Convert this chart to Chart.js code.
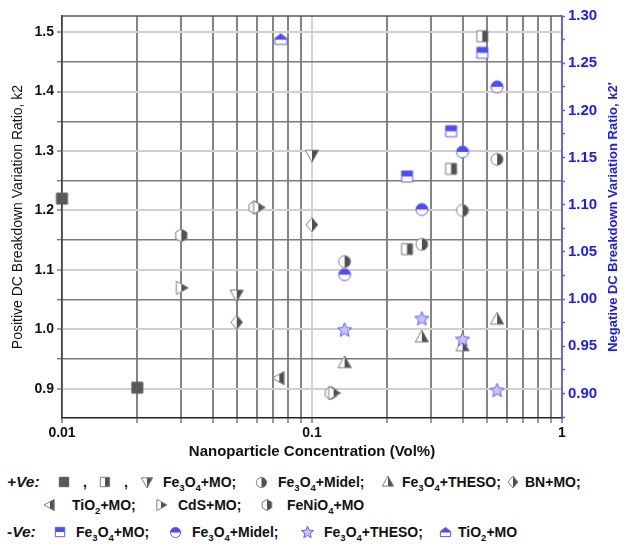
<!DOCTYPE html>
<html lang="en">
<head>
  <meta charset="UTF-8" />
  <title>DC Breakdown Variation Ratio vs Nanoparticle Concentration</title>
  <script src="https://cdn.jsdelivr.net/npm/chart.js"></script>
  <style>
    body { margin: 0; background: #fff; font-family: "Liberation Sans", Arial, sans-serif; }
    #wrap { position: relative; width: 627px; height: 544px; overflow: hidden; }
    #chartBox { position: absolute; left: 0; top: 0; width: 627px; height: 470px; }
    .lg { position: absolute; font-size: 14px; font-weight: bold; color: #111; white-space: nowrap; line-height: 18px; }
    .lg sub { font-size: 9.5px; vertical-align: -4px; line-height: 0; }
    .tag { font-style: italic; font-size: 15.5px; }
    .ico { position: absolute; }
  </style>
</head>
<body>
<div id="wrap">
  <div id="chartBox"><canvas id="chart"></canvas></div>
  <div id="legend"></div>
</div>

<script>
  // ---- data ----
  // +Ve (left axis, k2)
  const posSquareX = [0.01, 0.02];
  const posSquareY = [1.22, 0.902];
  const posHalfSqX = [0.24, 0.36, 0.48];
  const posHalfSqY = [1.135, 1.27, 1.493];
  const posFeMOX = [0.05, 0.1];
  const posFeMOY = [1.058, 1.293];
  const posMidelX = [0.135, 0.275, 0.40, 0.55];
  const posMidelY = [1.114, 1.143, 1.20, 1.286];
  const posThesoX = [0.135, 0.275, 0.40, 0.55];
  const posThesoY = [0.944, 0.987, 0.972, 1.017];
  const posBNX = [0.05, 0.1];
  const posBNY = [1.012, 1.176];
  const posTiO2X = [0.074];
  const posTiO2Y = [0.918];
  const posCdSX = [0.03, 0.061, 0.122];
  const posCdSY = [1.07, 1.205, 0.893];
  const posFeNiX = [0.03, 0.059, 0.119];
  const posFeNiY = [1.158, 1.205, 0.893];
  // -Ve (right axis, k2')
  const negFeMOX = [0.24, 0.36, 0.48];
  const negFeMOY = [1.130, 1.178, 1.261];
  const negMidelX = [0.135, 0.275, 0.40, 0.55];
  const negMidelY = [1.026, 1.095, 1.156, 1.225];
  const negThesoX = [0.135, 0.275, 0.40, 0.55];
  const negThesoY = [0.967, 0.979, 0.957, 0.903];
  const negTiO2X = [0.075];
  const negTiO2Y = [1.275];

  // axis ticks
  const xTicks = [0.01, 0.02, 0.03, 0.04, 0.05, 0.06, 0.07, 0.08, 0.09,
                  0.1, 0.2, 0.3, 0.4, 0.5, 0.6, 0.7, 0.8, 0.9, 1];
  const xLabels = { '0.01': '0.01', '0.1': '0.1', '1': '1' };
  const yLeftTicks = [0.9, 0.95, 1.0, 1.05, 1.1, 1.15, 1.2, 1.25, 1.3, 1.35, 1.4, 1.45, 1.5];
  const yRightTicks = [0.875, 0.9, 0.925, 0.95, 0.975, 1.0, 1.025, 1.05, 1.075, 1.1, 1.125,
                       1.15, 1.175, 1.2, 1.225, 1.25, 1.275, 1.3];

  const GRAY_LINE = '#7d7d7d', GRAY_FILL = '#505050';
  const BLUE = '#1a1aff', BLUE_LINE = '#5c5cff', BLUE_FILL = '#4b4bff';

  const MARKERS = {
    solidSq: { shape: 'square', r: 5.5, bg: '#5a5a5a', line: '#5a5a5a' },
    halfSq:  { shape: 'square', r: 5.5, bg: '#fff', fill: GRAY_FILL, line: GRAY_LINE, half: 'right' },
    down:    { shape: 'down', r: 7, bg: '#fff', fill: GRAY_FILL, line: GRAY_LINE, half: 'right' },
    circ:    { shape: 'circle', r: 6, bg: '#fff', fill: GRAY_FILL, line: GRAY_LINE, half: 'right' },
    up:      { shape: 'up', r: 7, bg: '#fff', fill: GRAY_FILL, line: GRAY_LINE, half: 'right' },
    diam:    { shape: 'diamond', r: 7, bg: '#fff', fill: GRAY_FILL, line: GRAY_LINE, half: 'right' },
    left:    { shape: 'left', r: 7, bg: '#fff', fill: GRAY_FILL, line: GRAY_LINE, half: 'right' },
    right:   { shape: 'right', r: 7, bg: '#fff', fill: GRAY_FILL, line: GRAY_LINE, half: 'right' },
    hex:     { shape: 'hex', r: 6.5, bg: '#fff', fill: GRAY_FILL, line: GRAY_LINE, half: 'right' },
    bSq:     { shape: 'square', r: 5.5, bg: '#fff', fill: BLUE_FILL, line: BLUE_LINE, half: 'top' },
    bCirc:   { shape: 'circle', r: 6, bg: '#fff', fill: BLUE_FILL, line: BLUE_LINE, half: 'top' },
    bStar:   { shape: 'star', r: 7.5, bg: '#c4c4ff', line: BLUE_LINE },
    bHouse:  { shape: 'house', r: 6, bg: '#fff', fill: BLUE_FILL, line: BLUE_LINE, half: 'top' }
  };

  function shapePath(g, shape, cx, cy, r) {
    const pts = [];
    if (shape === 'square') { g.rect(cx - r, cy - r, 2 * r, 2 * r); return; }
    if (shape === 'circle') { g.arc(cx, cy, r, 0, Math.PI * 2); return; }
    if (shape === 'up') pts.push([0, -r], [r * 0.95, r * 0.7], [-r * 0.95, r * 0.7]);
    if (shape === 'down') pts.push([0, r], [r * 0.95, -r * 0.7], [-r * 0.95, -r * 0.7]);
    if (shape === 'left') pts.push([-r, 0], [r * 0.7, -r * 0.95], [r * 0.7, r * 0.95]);
    if (shape === 'right') pts.push([r, 0], [-r * 0.7, -r * 0.95], [-r * 0.7, r * 0.95]);
    if (shape === 'diamond') pts.push([0, -r], [r * 0.85, 0], [0, r], [-r * 0.85, 0]);
    if (shape === 'hex') {
      for (let i = 0; i < 6; i++) {
        const a = -Math.PI / 2 + i * Math.PI / 3;
        pts.push([r * Math.cos(a), r * Math.sin(a)]);
      }
    }
    if (shape === 'house') pts.push([0, -r], [r, -r * 0.2], [r, r * 0.8], [-r, r * 0.8], [-r, -r * 0.2]);
    if (shape === 'star') {
      for (let i = 0; i < 10; i++) {
        const a = -Math.PI / 2 + i * Math.PI / 5;
        const rr = i % 2 ? r * 0.45 : r;
        pts.push([rr * Math.cos(a), rr * Math.sin(a)]);
      }
    }
    pts.forEach((p, i) => i ? g.lineTo(cx + p[0], cy + p[1]) : g.moveTo(cx + p[0], cy + p[1]));
    g.closePath();
  }

  function makeMarker(kind, scale) {
    const m = MARKERS[kind];
    const r = m.r * (scale || 1);
    const size = Math.ceil(2 * r + 4);
    const c = document.createElement('canvas');
    c.width = c.height = size;
    const g = c.getContext('2d');
    const cx = size / 2, cy = size / 2;
    g.beginPath();
    shapePath(g, m.shape, cx, cy, r);
    g.fillStyle = m.bg;
    g.fill();
    if (m.half) {
      g.save();
      g.clip();
      g.fillStyle = m.fill;
      if (m.half === 'right') g.fillRect(cx, 0, size, size);
      else g.fillRect(0, 0, size, cy);
      g.restore();
    }
    g.lineWidth = 1;
    g.strokeStyle = m.line;
    g.stroke();
    return c;
  }

  function pts(xs, ys) { return xs.map((x, i) => ({ x: x, y: ys[i] })); }

  function ds(label, xs, ys, kind, axis) {
    return {
      label: label,
      data: pts(xs, ys),
      yAxisID: axis,
      pointStyle: makeMarker(kind),
      pointRadius: 7,
      showLine: false,
      clip: false
    };
  }

  // first dataset is drawn on top
  const datasets = [
    ds('-Ve Fe3O4+THESO', negThesoX, negThesoY, 'bStar', 'y2'),
    ds('-Ve Fe3O4+Midel', negMidelX, negMidelY, 'bCirc', 'y2'),
    ds('-Ve Fe3O4+MO', negFeMOX, negFeMOY, 'bSq', 'y2'),
    ds('-Ve TiO2+MO', negTiO2X, negTiO2Y, 'bHouse', 'y2'),
    ds('+Ve square', posSquareX, posSquareY, 'solidSq', 'y'),
    ds('+Ve half square', posHalfSqX, posHalfSqY, 'halfSq', 'y'),
    ds('+Ve Fe3O4+MO', posFeMOX, posFeMOY, 'down', 'y'),
    ds('+Ve Fe3O4+Midel', posMidelX, posMidelY, 'circ', 'y'),
    ds('+Ve Fe3O4+THESO', posThesoX, posThesoY, 'up', 'y'),
    ds('+Ve BN+MO', posBNX, posBNY, 'diam', 'y'),
    ds('+Ve TiO2+MO', posTiO2X, posTiO2Y, 'left', 'y'),
    ds('+Ve CdS+MO', posCdSX, posCdSY, 'right', 'y'),
    ds('+Ve FeNiO4+MO', posFeNiX, posFeNiY, 'hex', 'y')
  ];

  const isMajor = (v, step) => Math.abs(Math.round(v / step) * step - v) < 1e-6;

  // top frame line and the right-hand title (reads bottom to top)
  const framePlugin = {
    id: 'frame',
    beforeDatasetsDraw(chart) {
      const { ctx, chartArea: a } = chart;
      ctx.save();
      ctx.strokeStyle = '#555';
      ctx.lineWidth = 1.5;
      ctx.beginPath();
      ctx.moveTo(a.left, a.top);
      ctx.lineTo(a.right, a.top);
      ctx.stroke();
      ctx.restore();
    },
    afterDraw(chart) {
      const { ctx, chartArea: a } = chart;
      ctx.save();
      ctx.translate(613, (a.top + a.bottom) / 2);
      ctx.rotate(-Math.PI / 2);
      ctx.fillStyle = BLUE;
      ctx.font = 'bold 13px "Liberation Sans", Arial, sans-serif';
      ctx.textAlign = 'center';
      ctx.textBaseline = 'middle';
      ctx.fillText("Negative DC Breakdown Variation Ratio, k2'", 0, 0);
      ctx.restore();
    }
  };

  Chart.defaults.font.family = '"Liberation Sans", Arial, sans-serif';
  Chart.defaults.color = '#111';

  new Chart(document.getElementById('chart'), {
    type: 'scatter',
    data: { datasets: datasets },
    options: {
      responsive: true,
      maintainAspectRatio: false,
      animation: false,
      layout: { padding: { top: 16, left: 0, right: 0, bottom: 0 } },
      plugins: { legend: { display: false }, tooltip: { enabled: false } },
      scales: {
        x: {
          type: 'logarithmic',
          min: 0.01,
          max: 1,
          afterBuildTicks: s => { s.ticks = xTicks.map(v => ({ value: v })); },
          afterFit: s => { s.height = 52; },
          ticks: {
            autoSkip: false,
            maxRotation: 0,
            padding: 2,
            color: '#111',
            font: { size: 14, weight: 'bold' },
            callback: v => xLabels[String(Math.round(v * 100) / 100)] || ''
          },
          grid: {
            color: c => (c.tick && Math.abs(c.tick.value - 0.1) < 1e-6) ? '#d2d2d2' : '#858585',
            lineWidth: 2,
            tickLength: 5,
            tickWidth: 1,
            tickColor: '#333'
          },
          border: { color: '#222', width: 1.5 },
          title: {
            display: true,
            text: 'Nanoparticle Concentration (Vol%)',
            color: '#111',
            font: { size: 15, weight: 'bold' },
            padding: { top: 0, bottom: 9 }
          }
        },
        y: {
          position: 'left',
          min: 0.851,
          max: 1.527,
          afterBuildTicks: s => { s.ticks = yLeftTicks.map(v => ({ value: v })); },
          afterFit: s => { s.width = 62; },
          ticks: {
            padding: 3,
            color: '#111',
            font: { size: 14, weight: 'bold' },
            callback: v => isMajor(v, 0.1) ? v.toFixed(1) : ''
          },
          grid: {
            color: c => (c.tick && isMajor(c.tick.value, 0.1)) ? '#d0d0d0' : '#7a7a7a',
            lineWidth: c => (c.tick && isMajor(c.tick.value, 0.1)) ? 2 : 1.5,
            tickLength: 5,
            tickWidth: 1,
            tickColor: '#444'
          },
          border: { color: '#444', width: 1.5 },
          title: {
            display: true,
            text: 'Positive DC Breakdown Variation Ratio, k2',
            color: '#111',
            font: { size: 14 },
            padding: { top: 10, bottom: 0 }
          }
        },
        y2: {
          position: 'right',
          min: 0.874,
          max: 1.30,
          afterBuildTicks: s => { s.ticks = yRightTicks.map(v => ({ value: v })); },
          afterFit: s => { s.width = 65; },
          ticks: {
            padding: 3,
            color: BLUE,
            font: { size: 15, weight: 'bold' },
            callback: v => isMajor(v, 0.05) ? v.toFixed(2) : ''
          },
          grid: {
            drawOnChartArea: false,
            tickLength: c => (c.tick && isMajor(c.tick.value, 0.05)) ? 6 : 3,
            tickWidth: 1.5,
            tickColor: BLUE_LINE
          },
          border: { color: BLUE_LINE, width: 1.5 }
        }
      }
    },
    plugins: [framePlugin]
  });

  // ---- legend (HTML, so the subscripts are real text) ----
  const legendRows = [
    { y: 482, tag: '+Ve:', items: [
      ['solidSq', 64, ',', 83], ['halfSq', 105, ',', 124],
      ['down', 147, 'Fe<sub>3</sub>O<sub>4</sub>+MO;', 163],
      ['circ', 261, 'Fe<sub>3</sub>O<sub>4</sub>+Midel;', 278],
      ['up', 388, 'Fe<sub>3</sub>O<sub>4</sub>+THESO;', 402],
      ['diam', 513, 'BN+MO;', 525]
    ] },
    { y: 505, tag: '', items: [
      ['left', 50, 'TiO<sub>2</sub>+MO;', 72],
      ['right', 161, 'CdS+MO;', 178],
      ['hex', 267, 'FeNiO<sub>4</sub>+MO', 287]
    ] },
    { y: 532, tag: '-Ve:', items: [
      ['bSq', 60, 'Fe<sub>3</sub>O<sub>4</sub>+MO;', 76],
      ['bCirc', 175, 'Fe<sub>3</sub>O<sub>4</sub>+Midel;', 192],
      ['bStar', 307, 'Fe<sub>3</sub>O<sub>4</sub>+THESO;', 324],
      ['bHouse', 445, 'TiO<sub>2</sub>+MO', 458]
    ] }
  ];

  const legendEl = document.getElementById('legend');
  legendRows.forEach(row => {
    if (row.tag) {
      const t = document.createElement('div');
      t.className = 'lg tag';
      t.textContent = row.tag;
      t.style.left = '7px';
      t.style.top = (row.y - 9) + 'px';
      legendEl.appendChild(t);
    }
    row.items.forEach(([kind, ix, html, tx]) => {
      const c = makeMarker(kind, 0.85);
      c.className = 'ico';
      c.style.left = (ix - c.width / 2) + 'px';
      c.style.top = (row.y - c.height / 2) + 'px';
      legendEl.appendChild(c);
      const t = document.createElement('div');
      t.className = 'lg';
      t.innerHTML = html;
      t.style.left = tx + 'px';
      t.style.top = (row.y - 9) + 'px';
      legendEl.appendChild(t);
    });
  });
</script>
</body>
</html>
